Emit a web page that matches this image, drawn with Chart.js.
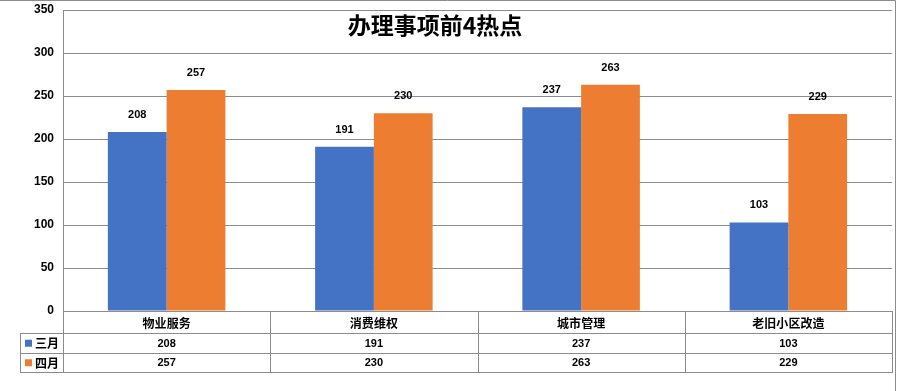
<!DOCTYPE html>
<html>
<head>
<meta charset="utf-8">
<script src="https://cdn.jsdelivr.net/npm/chart.js@4.4.0/dist/chart.umd.min.js"></script>
<style>
    html, body { margin: 0; padding: 0; background: #fff; }
    #wrap { width: 897px; height: 391px; position: relative; }
</style>
</head>
<body>
<div id="wrap"><canvas id="hotChart"></canvas></div>
<script>
// ============================================================
// DATA
// ============================================================
const chartTitle = '办理事项前4热点';
const categories = ['物业服务', '消费维权', '城市管理', '老旧小区改造'];
const seriesNames = ['三月', '四月'];
const marchValues = [208, 191, 237, 103];
const aprilValues = [257, 230, 263, 229];
const yTicks = [0, 50, 100, 150, 200, 250, 300, 350];

const colors = ['#4472C4', '#ED7D31'];
const lineColor = '#8c8c8c';
const cjkFont = '"Noto Sans CJK SC", sans-serif';

// ============================================================
// PLUGIN - bingkai, judul, label nilai, tabel data
// ============================================================
const excelLook = {
    id: 'excelLook',
    beforeDraw(chart) {
        const ctx = chart.ctx;
        ctx.save();
        ctx.strokeStyle = lineColor;
        ctx.lineWidth = 1;
        ctx.beginPath();
        ctx.moveTo(0, 0.5);
        ctx.lineTo(895.5, 0.5);
        ctx.lineTo(895.5, 391);
        ctx.stroke();
        ctx.restore();
    },
    afterDatasetsDraw(chart) {
        const ctx = chart.ctx;
        ctx.save();
        ctx.fillStyle = '#000';
        ctx.font = 'bold 11px "Liberation Sans", Arial, sans-serif';
        ctx.textAlign = 'center';
        ctx.textBaseline = 'middle';
        chart.data.datasets.forEach((ds, i) => {
            chart.getDatasetMeta(i).data.forEach((bar, j) => {
                ctx.fillText(ds.data[j], bar.x, bar.y - 17);
            });
        });
        ctx.restore();
    },
    afterDraw(chart) {
        const ctx = chart.ctx;
        const area = chart.chartArea;
        const x = chart.scales.x;
        const step = (area.right - area.left) / categories.length;
        const top = area.bottom;
        const rows = [top, top + 22, top + 41.5, top + 61];
        const labelLeft = 20;

        ctx.save();
        // Judul
        ctx.fillStyle = '#000';
        ctx.font = 'bold 23px ' + cjkFont;
        ctx.textAlign = 'center';
        ctx.textBaseline = 'middle';
        ctx.fillText(chartTitle, 435, 25);

        // Garis tabel
        ctx.strokeStyle = lineColor;
        ctx.lineWidth = 1;
        ctx.beginPath();
        ctx.moveTo(area.left, rows[0] + 0.5);
        ctx.lineTo(area.right, rows[0] + 0.5);
        for (let r = 1; r < rows.length; r++) {
            ctx.moveTo(labelLeft, Math.round(rows[r]) + 0.5);
            ctx.lineTo(area.right, Math.round(rows[r]) + 0.5);
        }
        ctx.moveTo(labelLeft + 0.5, Math.round(rows[1]));
        ctx.lineTo(labelLeft + 0.5, Math.round(rows[3]) + 1);
        for (let c = 0; c <= categories.length; c++) {
            const lx = Math.round(area.left + c * step) + 0.5;
            ctx.moveTo(lx, rows[0]);
            ctx.lineTo(lx, Math.round(rows[3]) + 1);
        }
        ctx.stroke();

        // Header kategori
        ctx.font = 'bold 12px ' + cjkFont;
        categories.forEach((cat, i) => {
            ctx.fillText(cat, x.getPixelForValue(i), (rows[0] + rows[1]) / 2 + 1);
        });

        // Baris seri
        const series = [marchValues, aprilValues];
        series.forEach((vals, s) => {
            const cy = (rows[s + 1] + rows[s + 2]) / 2 + 1;
            ctx.fillStyle = colors[s];
            ctx.fillRect(labelLeft + 5, cy - 4, 7, 7);
            ctx.fillStyle = '#000';
            ctx.font = 'bold 12px ' + cjkFont;
            ctx.textAlign = 'left';
            ctx.fillText(seriesNames[s], labelLeft + 15, cy);
            ctx.textAlign = 'center';
            ctx.font = 'bold 11px "Liberation Sans", Arial, sans-serif';
            vals.forEach((v, i) => {
                ctx.fillText(v, x.getPixelForValue(i), cy);
            });
        });
        ctx.restore();
    }
};

// ============================================================
// CHART
// ============================================================
new Chart(document.getElementById('hotChart').getContext('2d'), {
    type: 'bar',
    data: {
        labels: categories,
        datasets: [
            { label: seriesNames[0], data: marchValues, backgroundColor: colors[0] },
            { label: seriesNames[1], data: aprilValues, backgroundColor: colors[1] }
        ]
    },
    options: {
        responsive: true,
        maintainAspectRatio: false,
        animation: false,
        devicePixelRatio: 1,
        layout: { padding: { top: 10, right: 5, bottom: 80, left: 0 } },
        plugins: {
            legend: { display: false },
            title: { display: false },
            tooltip: { enabled: false }
        },
        datasets: {
            bar: { barPercentage: 1, categoryPercentage: 0.567 }
        },
        scales: {
            x: { display: false },
            y: {
                min: 0,
                max: 350,
                afterFit(scale) {
                    scale.width = 63;
                    scale.paddingTop = 0;
                    scale.paddingBottom = 0;
                },
                afterBuildTicks(scale) { scale.ticks = yTicks.map(v => ({ value: v })); },
                grid: { color: lineColor, drawTicks: false },
                border: { color: lineColor },
                ticks: {
                    padding: 9,
                    color: '#000',
                    font: { family: '"Liberation Sans", Arial, sans-serif', size: 12, weight: 'bold' }
                }
            }
        }
    },
    plugins: [excelLook]
});
</script>
</body>
</html>
